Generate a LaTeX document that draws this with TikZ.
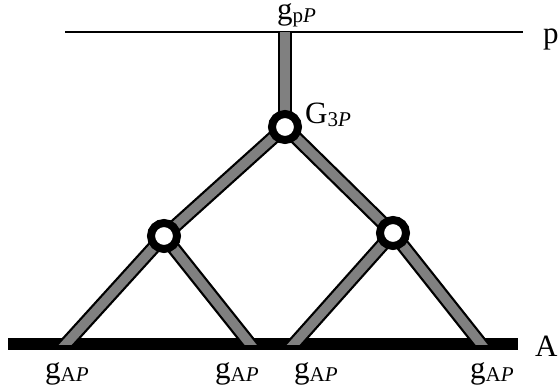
\documentclass[tikz,border=0pt]{standalone}
\usepackage{fontspec}
\setmainfont{Liberation Serif}
\usetikzlibrary{calc}
\definecolor{barGray}{gray}{0.5}
\newcommand\lowsub[1]{\raisebox{-3pt}{\fontsize{21}{21}\selectfont #1}}
\begin{document}
\begin{tikzpicture}[x=1pt,y=-1pt,
  lbl/.style={inner sep=0pt, anchor=base west, font=\fontsize{31}{31}\selectfont},
  biglbl/.style={inner sep=0pt, anchor=base west, font=\fontsize{31}{31}\selectfont},
  outline/.style={line width=14pt, black},
  fillbar/.style={line width=9.5pt, barGray},
  joint/.style={circle, draw=black, line width=8pt, fill=white, minimum size=26pt, inner sep=0pt}]
\useasboundingbox (0,0) rectangle (559,387);
\coordinate (tl) at (65,32);
\coordinate (tr) at (523,32);
\coordinate (top) at (285,32);
\coordinate (c3) at (285,127);
\coordinate (cl) at (164,236);
\coordinate (cr) at (393,233);
\coordinate (a1) at (66,344);
\coordinate (a2) at (250,344);
\coordinate (a3) at (294,344);
\coordinate (a4) at (481,344);
\coordinate (bl) at (8,344);
\coordinate (br) at (518,344);
% top line
\draw[line width=2pt] (tl) -- (tr);
% bottom bar
\draw[line width=12pt] (bl) -- (br);
% bars
\begin{scope}
\clip (0,0) rectangle (559,344);
\foreach \st in {outline, fillbar}{
  \draw[\st] (top) -- (c3);
  \draw[\st] (c3) -- (cl);
  \draw[\st] (c3) -- (cr);
  \draw[\st] (cl) -- ($(cl)!1.15!(a1)$);
  \draw[\st] (cl) -- ($(cl)!1.15!(a2)$);
  \draw[\st] (cr) -- ($(cr)!1.15!(a3)$);
  \draw[\st] (cr) -- ($(cr)!1.15!(a4)$);
}
\end{scope}
% joints
\node[joint] (j3) at (c3) {};
\node[joint] (jl) at (cl) {};
\node[joint] (jr) at (cr) {};
% labels
\node[lbl, text height=15pt] (lgp) at (277,20) {g\lowsub{p\textit{P}}};
\node[biglbl] (lG) at (305,124) {G\lowsub{3\textit{P}}};
\node[biglbl] (lp) at (543,44) {p};
\node[biglbl] (lA) at (535,356) {A};
\node[lbl] (g1) at (45,378) {g\lowsub{A\textit{P}}};
\node[lbl] (g2) at (215,378) {g\lowsub{A\textit{P}}};
\node[lbl] (g3) at (294,378) {g\lowsub{A\textit{P}}};
\node[lbl] (g4) at (470,378) {g\lowsub{A\textit{P}}};
\end{tikzpicture}
\end{document}
